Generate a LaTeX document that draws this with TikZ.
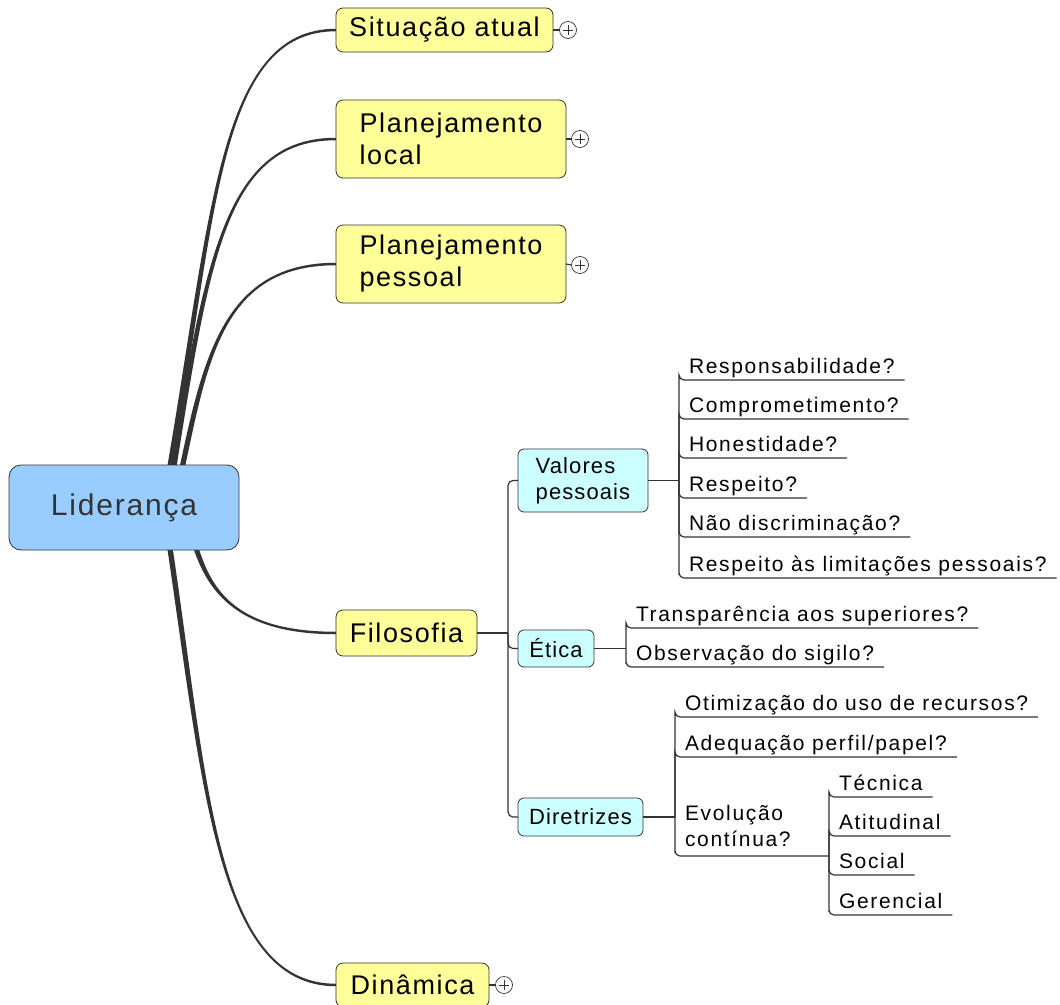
\documentclass[tikz,border=0pt]{standalone}
\usepackage{fontspec}
\setmainfont{Liberation Sans}
\usetikzlibrary{calc,backgrounds}

\definecolor{ink}{HTML}{333333}
\definecolor{rootfill}{HTML}{99CCFF}
\definecolor{mainfill}{HTML}{FFFF99}
\definecolor{subfill}{HTML}{CCFFFF}

\newcommand\fsz[3]{\fontsize{#1}{#2}\selectfont\addfontfeatures{LetterSpace=#3}}

% tapered main branch: start, end, first control offset, second control x offset,
% end half-widths of the two edges (outer edge first)
\newcommand\branch[6]{%
  \fill[ink] ($#1+(-2.7,0)$) .. controls +(#3) and +(#4,0) .. ($#2+(0,#5)$)
    -- ($#2+(0,#6)$) .. controls +(#4,0) and +(#3) .. ($#1+(2.7,0)$) -- cycle;}
\newcommand\branchup[4]{\branch{#1}{#2}{#3}{#4}{-1.25}{1.25}}
\newcommand\branchdown[4]{\branch{#1}{#2}{#3}{#4}{1.25}{-1.25}}

\begin{document}
\begin{tikzpicture}[x=1pt,y=-1pt,
  every node/.style={outer sep=0pt},
  rootnode/.style={draw=ink, fill=rootfill, line width=0.8pt, rounded corners=12pt,
    text=ink, inner sep=0pt, anchor=north west, font=\fsz{30}{36}{6}},
  mainnode/.style={draw=ink, fill=mainfill, line width=0.8pt, rounded corners=7pt,
    inner sep=0pt, anchor=north west, align=left, font=\fsz{27}{32}{6}},
  subnode/.style={draw=ink, fill=subfill, line width=0.8pt, rounded corners=6pt,
    inner sep=0pt, anchor=north west, align=left, font=\fsz{22}{26}{5}},
  leaf/.style={anchor=south west, inner xsep=10pt, inner ysep=0pt,
    text height=16pt, text depth=7pt, font=\fsz{21}{25}{8}},
  tree/.style={draw=ink, line width=1.2pt, rounded corners=5pt},
  plus/.style={circle, draw=ink, fill=white, line width=0.7pt, minimum size=17pt, inner sep=0pt},
]
\useasboundingbox (0,0) rectangle (1060,1004);

% central topic and first-level topics
\node[rootnode, minimum width=230pt, minimum height=85pt] (root) at (9,465) {Liderança};
\node[mainnode, minimum width=217pt, minimum height=44pt] (sit) at (336,8) {Situação atual};
\node[mainnode, minimum width=230pt, minimum height=78pt] (ploc) at (336,100) {Planejamento\\local};
\node[mainnode, minimum width=230pt, minimum height=78pt] (ppes) at (336,225) {Planejamento\\pessoal};
\node[mainnode, minimum width=141pt, minimum height=46pt] (filo) at (336,610) {Filosofia};
\node[mainnode, minimum width=153pt, minimum height=44pt] (din) at (336,963) {Dinâmica};

% collapsed-branch markers
\node[plus] (p1) at (568,30) {};
\node[plus] (p2) at (580,139) {};
\node[plus] (p3) at (580,265) {};
\node[plus] (p4) at (504,985) {};
\foreach \p in {p1,p2,p3,p4}{
  \draw[ink, line width=0.7pt] (\p.center) ++(-5,0) -- ++(10,0) (\p.center) ++(0,-5) -- ++(0,10);}
\draw[tree] (sit.east) -- (p1.west);
\draw[tree] (ploc.east) -- (p2.west);
\draw[tree] (ppes.east) -- (p3.west);
\draw[tree] (din.east) -- (p4.west);

% curved branches from the central topic
\coordinate (s1) at ($(root.north)+(44,13)$);
\coordinate (s2) at ($(root.north)+(48,13)$);
\coordinate (s3) at ($(root.north)+(56,13)$);
\coordinate (s4) at ($(root.south)+(68,-15)$);
\coordinate (s5) at ($(root.south)+(44,-15)$);
\begin{scope}[on background layer]
  \branchup{(s1)}{(sit.west)}{46,-263}{-118}
  \branchup{(s2)}{(ploc.west)}{35,-218}{-111}
  \branchup{(s3)}{(ppes.west)}{25,-118}{-114}
  \branchdown{(s4)}{(filo.west)}{13,45}{-111}
  \branchdown{(s5)}{(din.west)}{37,245}{-121}
\end{scope}

% Filosofia subtree
\node[subnode, minimum width=130pt, minimum height=63pt] (val) at (518,449) {Valores\\pessoais};
\node[subnode, minimum width=76pt, minimum height=37pt] (eti) at (518,630) {Ética};
\node[subnode, minimum width=125pt, minimum height=38pt] (dir) at (518,798) {Diretrizes};
\coordinate (fj) at ($(filo.east)+(31,0)$);
\draw[tree] (filo.east) -- (fj);
\draw[tree] (fj) |- (val.west);
\draw[tree] (fj) |- (eti.west);
\draw[tree] (fj) |- (dir.west);

% Valores pessoais
\coordinate (vj) at ($(val.east)+(31,0)$);
\draw[tree] (val.east) -- (vj);
\node[leaf] (v1) at (679,380) {Responsabilidade?};
\node[leaf] (v2) at (679,419) {Comprometimento?};
\node[leaf] (v3) at (679,458) {Honestidade?};
\node[leaf] (v4) at (679,498) {Respeito?};
\node[leaf] (v5) at (679,537) {Não discriminação?};
\node[leaf] (v6) at (679,578) {Respeito às limitações pessoais?};
\foreach \n in {v1,v2,v3,v4,v5,v6}{
  \draw[tree] (vj) |- (\n.south west) -- (\n.south east);}

% Ética
\coordinate (ej) at ($(eti.east)+(32,0)$);
\draw[tree] (eti.east) -- (ej);
\node[leaf] (e1) at (626,628) {Transparência aos superiores?};
\node[leaf] (e2) at (626,667) {Observação do sigilo?};
\foreach \n in {e1,e2}{
  \draw[tree] (ej) |- (\n.south west) -- (\n.south east);}

% Diretrizes
\coordinate (dj) at ($(dir.east)+(32,0)$);
\draw[tree] (dir.east) -- (dj);
\node[leaf] (d1) at (675,717) {Otimização do uso de recursos?};
\node[leaf] (d2) at (675,757) {Adequação perfil/papel?};
\node[anchor=south west, inner xsep=10pt, inner ysep=9pt,
  text width=134pt, align=left, font=\fsz{21}{26}{8}] (d3) at (675,856) {Evolução\\contínua?};
\foreach \n in {d1,d2,d3}{
  \draw[tree] (dj) |- (\n.south west) -- (\n.south east);}

% Evolução contínua
\coordinate (xj) at (d3.south east);
\node[leaf] (x1) at (829,797) {Técnica};
\node[leaf] (x2) at (829,836) {Atitudinal};
\node[leaf] (x3) at (829,875) {Social};
\node[leaf] (x4) at (829,915) {Gerencial};
\foreach \n in {x1,x2,x3,x4}{
  \draw[tree] (xj) |- (\n.south west) -- (\n.south east);}
\end{tikzpicture}
\end{document}
